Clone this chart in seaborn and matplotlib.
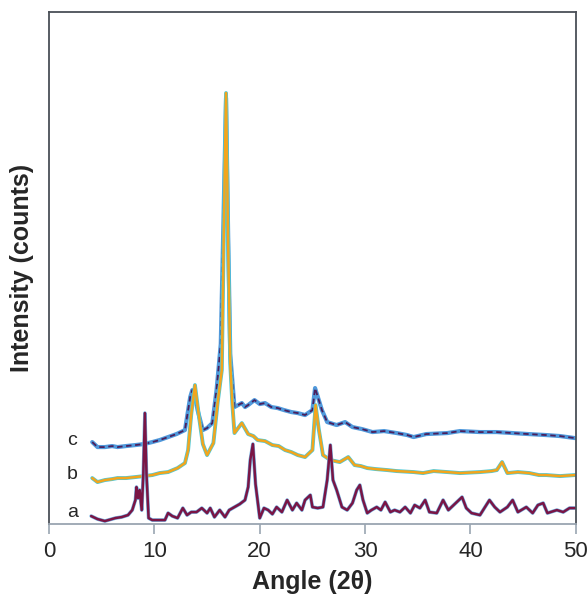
import matplotlib
matplotlib.use('Agg')
import matplotlib.pyplot as plt
import seaborn as sns

# XRD patterns (intensity in arbitrary units)
angle_a = [4.0, 4.6, 5.3, 6.3, 6.9, 7.5, 7.9, 8.2, 8.3, 8.45, 8.6, 8.8, 8.95, 9.1, 9.25, 9.45, 9.8,
           11.0, 11.3, 11.7, 12.2, 12.7, 13.1, 13.5, 14.0, 14.5, 15.0, 15.3, 15.7, 16.2, 16.7, 17.1,
           17.6, 18.1, 18.6, 18.9, 19.1, 19.35, 19.6, 20.0, 20.4, 20.8, 21.2, 21.6, 22.1, 22.6, 23.1,
           23.5, 24.0, 24.3, 24.8, 25.0, 25.5, 26.0, 26.4, 26.7, 26.95, 27.3, 27.8, 28.3, 28.8, 29.2,
           29.5, 29.8, 30.2, 30.6, 31.1, 31.5, 31.9, 32.4, 32.8, 33.3, 33.8, 34.3, 34.7, 35.2, 35.7,
           36.1, 36.8, 37.4, 37.9, 38.5, 39.2, 39.6, 40.1, 40.9, 41.8, 42.3, 42.8, 43.5, 44.0, 44.5,
           45.3, 45.9, 46.4, 46.9, 47.3, 48.2, 48.8, 49.4, 49.9]
int_a = [8, 5, 3, 6, 7, 9, 14, 24, 37, 26, 34, 14, 50, 111, 50, 6, 4,
         4, 11, 8, 6, 16, 9, 12, 12, 16, 11, 16, 7, 14, 7, 14,
         17, 20, 24, 37, 64, 80, 40, 6, 16, 14, 10, 17, 12, 24, 14,
         21, 14, 24, 29, 17, 16, 17, 44, 79, 44, 34, 17, 14, 21, 34,
         39, 24, 11, 14, 17, 14, 22, 12, 14, 12, 17, 11, 19, 16, 24,
         12, 11, 24, 14, 20, 27, 16, 11, 9, 24, 17, 12, 17, 24, 12,
         17, 11, 19, 21, 11, 14, 12, 16, 16]

angle_b = [4.1, 4.6, 5.3, 6.0, 6.5, 7.3, 8.2, 9.0, 9.8, 10.5, 11.3, 12.2, 12.9, 13.2, 13.5, 13.85,
           14.2, 14.6, 15.0, 15.6, 16.0, 16.4, 16.6, 16.8, 17.0, 17.2, 17.4, 17.6, 18.3, 18.9, 19.4,
           19.8, 20.5, 21.2, 21.8, 22.4, 23.0, 23.6, 24.3, 25.0, 25.3, 25.6, 26.0, 26.7, 27.6, 28.4,
           29.0, 29.6, 30.2, 31.0, 32.1, 33.0, 34.6, 35.5, 36.5, 37.8, 39.0, 40.9, 42.0, 42.5, 43.0,
           43.5, 44.5, 45.6, 46.5, 47.2, 48.5, 49.9]
int_b = [46, 42, 44, 45, 46, 46, 47, 48, 49, 51, 52, 56, 61, 74, 110, 139,
         110, 80, 69, 81, 121, 154, 300, 431, 280, 160, 120, 91, 101, 90, 88,
         84, 83, 79, 78, 74, 72, 69, 67, 74, 119, 95, 69, 64, 62, 67,
         59, 58, 56, 55, 54, 53, 52, 51, 53, 52, 51, 52, 53, 54, 62,
         51, 52, 51, 49, 49, 48, 49]

angle_c = [4.1, 4.6, 5.3, 6.0, 6.5, 7.3, 8.2, 9.0, 9.8, 10.5, 11.3, 12.1, 12.9, 13.4, 13.6, 13.85,
           14.1, 14.6, 15.0, 15.5, 15.9, 16.3, 16.55, 16.8, 17.0, 17.2, 17.6, 18.3, 18.6, 18.9, 19.5,
           20.0, 20.5, 21.1, 21.7, 22.3, 23.0, 23.6, 24.3, 25.0, 25.25, 25.9, 26.4, 27.3, 28.1, 28.8,
           29.7, 30.7, 31.8, 33.0, 34.0, 34.6, 35.8, 37.8, 39.0, 40.9, 42.5, 44.0, 45.5, 47.2, 48.5,
           49.9]
int_c = [82, 77, 77, 78, 77, 78, 79, 80, 82, 84, 87, 90, 94, 127, 134, 128,
         114, 94, 96, 101, 134, 180, 300, 426, 290, 170, 117, 121, 117, 119, 124,
         120, 121, 117, 116, 114, 112, 111, 109, 114, 136, 114, 102, 99, 102, 97,
         95, 92, 93, 91, 89, 87, 90, 91, 93, 92, 92, 91, 90, 89, 88,
         86]

x_ticks = [0, 10, 20, 30, 40, 50]
curve_labels = ['a', 'b', 'c']
label_levels = [12, 50, 84]

sns.set_style('white')
plt.rcParams['font.family'] = ['Liberation Sans', 'DejaVu Sans']

fig = plt.figure(figsize=(5.87, 6.01), dpi=100)
ax = fig.add_axes([0.0835, 0.128, 0.8975, 0.852])

# each trace: a soft wide underlay plus the main line on top
sns.lineplot(x=angle_c, y=int_c, ax=ax, color='#3d8ed8', lw=3.0, alpha=0.9)
sns.lineplot(x=angle_c, y=int_c, ax=ax, color='#4a1f5c', lw=1.3, linestyle=(0, (3, 2)))
sns.lineplot(x=angle_b, y=int_b, ax=ax, color='#4fc8d6', lw=2.8)
sns.lineplot(x=angle_b, y=int_b, ax=ax, color='#f2a51d', lw=1.8)
sns.lineplot(x=angle_a, y=int_a, ax=ax, color='#74b0e0', lw=2.6)
sns.lineplot(x=angle_a, y=int_a, ax=ax, color='#7a1545', lw=1.8)

for lab, lev in zip(curve_labels, label_levels):
    ax.text(2.2, lev, lab, fontsize=14, ha='center', va='center')

ax.set_xlim(0, 50)
ax.set_ylim(0, 512)
ax.set_xticks(x_ticks)
ax.set_yticks([])
ax.tick_params(axis='x', direction='out', length=7, width=1.2, color='#9aa5b1',
               labelsize=16, pad=5, bottom=True)
ax.set_xlabel('Angle (2θ)', fontsize=18, fontweight='bold', labelpad=6)
ax.set_ylabel('Intensity (counts)', fontsize=18, fontweight='bold', labelpad=11)

for side in ['left', 'top', 'right']:
    ax.spines[side].set_color('#4a4f57')
    ax.spines[side].set_linewidth(1.3)
ax.spines['bottom'].set_color('#9aa5b1')
ax.spines['bottom'].set_linewidth(1.3)

fig.savefig('out.png', dpi=100)
